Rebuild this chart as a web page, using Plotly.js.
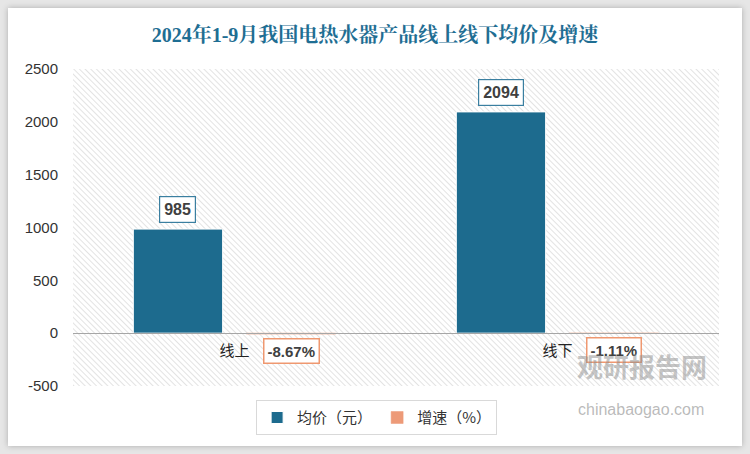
<!DOCTYPE html>
<html>
<head>
<meta charset="utf-8">
<script src="https://cdn.plot.ly/plotly-3.0.1.min.js"></script>
<style>
  html, body { margin: 0; padding: 0; }
  #wrap { position: relative; width: 750px; height: 454px; background: #e6e6e6; overflow: hidden; }
  #card { position: absolute; left: 8px; top: 8px; width: 734px; height: 438px; background: #ffffff; box-shadow: 0 0 6px rgba(0,0,0,0.25); }
  #chart { position: absolute; left: 0; top: 0; width: 750px; height: 454px; }
</style>
</head>
<body>
<div id="wrap"><div id="card"></div><div id="chart"></div></div>
<script>
const categories = ['线上', '线下'];
const avgPrice = [985, 2094];
const growth = [-8.67, -1.11];
const seriesNames = ['均价（元）', '增速（%）'];
const yTicks = [-500, 0, 500, 1000, 1500, 2000, 2500];

const yRange = [-500, 2500];
const blue = '#1d6b8e';
const orange = '#ed9a78';

const hatch = "data:image/svg+xml;utf8," + encodeURIComponent(
  "<svg xmlns='http://www.w3.org/2000/svg' width='646' height='317'>" +
  "<defs><pattern id='p' width='4' height='4' patternUnits='userSpaceOnUse' patternTransform='rotate(-45)'>" +
  "<rect width='4' height='4' fill='#ffffff'/>" +
  "<line x1='0' y1='0' x2='0' y2='4' stroke='#d8d8d8' stroke-width='1.4'/></pattern></defs>" +
  "<rect width='100%' height='100%' fill='url(#p)'/></svg>");

const traces = [
  {
    type: 'bar', name: seriesNames[0], x: categories, y: avgPrice,
    marker: { color: blue, line: { color: '#ffffff', width: 1 } },
    hoverinfo: 'x+y'
  },
  {
    type: 'bar', name: seriesNames[1], x: categories, y: growth,
    marker: { color: orange, line: { color: orange, width: 0.5 } },
    hoverinfo: 'x+y'
  }
];

const shiftFrac = 0.176;
const annotations = [];
categories.forEach((c, i) => {
  annotations.push({
    x: i - shiftFrac, y: avgPrice[i], xref: 'x', yref: 'y',
    text: '<b>' + avgPrice[i] + '</b>', showarrow: false,
    yanchor: 'bottom', yshift: 6,
    font: { family: 'Liberation Sans, Arial, sans-serif', size: 16, color: '#404040' },
    bgcolor: '#ffffff', bordercolor: '#3a7fa0', borderwidth: 1.2, borderpad: 4
  });
  annotations.push({
    x: i + shiftFrac, y: growth[i], xref: 'x', yref: 'y',
    text: '<b>' + growth[i].toFixed(2) + '%</b>', showarrow: false,
    yanchor: 'top', yshift: -4,
    font: { family: 'Liberation Sans, Arial, sans-serif', size: 15, color: '#404040' },
    bgcolor: '#ffffff', bordercolor: '#ef9870', borderwidth: 1.5, borderpad: 3
  });
});
annotations.push({
  xref: 'paper', yref: 'paper', x: 0.985, y: 0.0, xanchor: 'right', yanchor: 'bottom',
  text: '<b>观研报告网</b>', showarrow: false,
  font: { family: 'Noto Sans CJK SC, sans-serif', size: 26, color: 'rgba(140,140,140,0.5)' }
});
annotations.push({
  xref: 'paper', yref: 'paper', x: 0.98, y: -0.04, xanchor: 'right', yanchor: 'top',
  text: 'chinabaogao.com', showarrow: false,
  font: { family: 'Liberation Sans, Arial, sans-serif', size: 16, color: 'rgba(140,140,140,0.6)' }
});

const layout = {
  width: 750, height: 454, autosize: false,
  margin: { l: 73, r: 31, t: 69, b: 68, autoexpand: false },
  paper_bgcolor: 'rgba(0,0,0,0)',
  plot_bgcolor: 'rgba(0,0,0,0)',
  title: {
    text: '<b>2024年1-9月我国电热水器产品线上线下均价及增速</b>',
    x: 0.5, xref: 'container', xanchor: 'center', y: 0.922, yref: 'container', yanchor: 'middle',
    font: { family: 'Liberation Serif, Noto Serif CJK SC, Noto Sans CJK SC, serif', size: 20, color: '#1f6e93' }
  },
  barmode: 'group', bargap: 0.30, bargroupgap: 0.21,
  xaxis: {
    type: 'category', anchor: 'free',
    position: (0 - yRange[0]) / (yRange[1] - yRange[0]),
    showline: true, linecolor: '#a6a6a6', linewidth: 1,
    showgrid: false, zeroline: false, ticks: '',
    tickfont: { family: 'Noto Sans CJK SC, sans-serif', size: 15, color: '#222222' },
    ticklabelstandoff: 4, automargin: false
  },
  yaxis: {
    range: yRange, tickvals: yTicks, ticktext: yTicks.map(String),
    showgrid: false, zeroline: false, showline: false, ticks: '',
    tickfont: { family: 'Liberation Sans, Arial, sans-serif', size: 15, color: '#333333' },
    ticklabelstandoff: 14, automargin: false
  },
  legend: {
    orientation: 'h', xref: 'paper', x: 0.47, xanchor: 'center',
    yref: 'paper', y: -0.045, yanchor: 'top',
    bordercolor: '#d9d9d9', borderwidth: 1, bgcolor: '#ffffff',
    font: { family: 'Noto Sans CJK SC, sans-serif', size: 15, color: '#333333' },
    itemwidth: 30, tracegroupgap: 0
  },
  images: [{
    source: hatch, xref: 'paper', yref: 'paper', x: 0, y: 1, sizex: 1, sizey: 1,
    sizing: 'stretch', xanchor: 'left', yanchor: 'top', layer: 'below'
  }],
  annotations: annotations,
  showlegend: true
};

Plotly.newPlot('chart', traces, layout, { displayModeBar: false, staticPlot: true });
</script>
</body>
</html>
